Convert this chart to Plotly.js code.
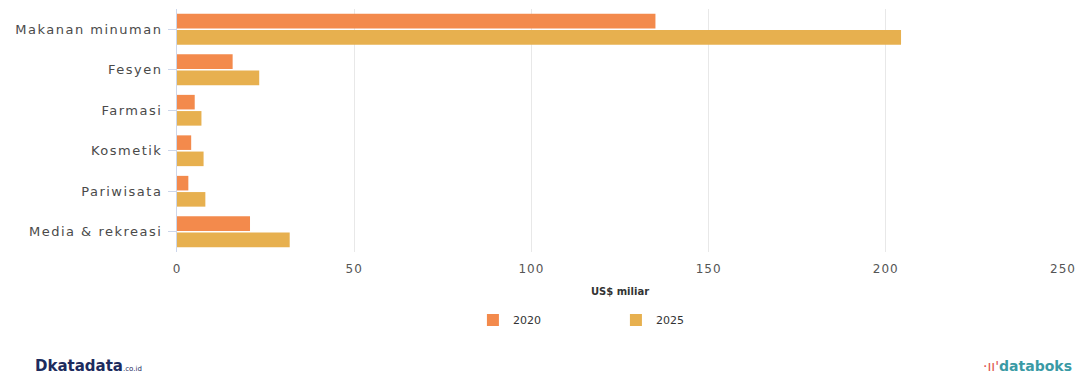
<!DOCTYPE html>
<html>
<head>
<meta charset="utf-8">
<script src="https://cdn.plot.ly/plotly-3.0.1.min.js"></script>
<style>
html,body{margin:0;padding:0;background:#fff;}
#chart{width:1084px;height:378px;}
#chart .ytick text{letter-spacing:1.5px;}
#chart .xtick text{letter-spacing:1px;}
</style>
</head>
<body>
<div id="chart"></div>
<script>
const categories = ["Makanan minuman", "Fesyen", "Farmasi", "Kosmetik", "Pariwisata", "Media & rekreasi"];
const values2020 = [135, 15.7, 5.0, 4.0, 3.2, 20.6];
const values2025 = [204.3, 23.2, 6.9, 7.5, 8.0, 31.8];
const seriesNames = ["2020", "2025"];
const xTicks = [0, 50, 100, 150, 200, 250];

const font = "DejaVu Sans, Verdana, sans-serif";
const traces = [
  {type: "bar", orientation: "h", name: seriesNames[0], y: categories, x: values2020,
   marker: {color: "#F38A4C"}, hoverinfo: "x"},
  {type: "bar", orientation: "h", name: seriesNames[1], y: categories, x: values2025,
   marker: {color: "#E7B04F"}, hoverinfo: "x"}
];
const layout = {
  width: 1084, height: 378,
  margin: {l: 177, r: 21, t: 9, b: 126},
  paper_bgcolor: "#fff", plot_bgcolor: "#fff",
  barmode: "group", bargap: 0.2, bargroupgap: 0.1,
  showlegend: true,
  legend: {orientation: "h", x: 0.334, xanchor: "left", y: -0.22, yanchor: "top",
    entrywidth: 98, entrywidthmode: "pixels", traceorder: "normal",
    font: {family: font, size: 11, color: "#333"}},
  xaxis: {range: [0, 250], tickvals: xTicks, ticktext: xTicks.map(String),
    showgrid: true, gridcolor: "#e8e8e8", zeroline: false, showline: false,
    ticks: "", ticklabelstandoff: 8, tickfont: {family: font, size: 12, color: "#555"},
    title: {text: "<b>US$ miliar</b>", font: {family: font, size: 10, color: "#333"}, standoff: 12}},
  yaxis: {categoryorder: "array", categoryarray: categories, autorange: "reversed",
    showline: true, linecolor: "#ccd6eb", linewidth: 1,
    ticks: "outside", ticklen: 8, tickcolor: "#ccd6eb", ticklabelstandoff: 3,
    tickfont: {family: font, size: 13, color: "#4a4a4a"}, showgrid: false, zeroline: false},
  annotations: [
    {xref: "paper", yref: "paper", x: -0.163, y: -0.47, xanchor: "left", yanchor: "middle", showarrow: false,
     text: "<b>D</b><b>katadata</b><span style='font-size:7px'>.co.id</span>",
     font: {family: font, size: 15, color: "#1d2b5e"}},
    {xref: "paper", yref: "paper", x: 1.012, y: -0.47, xanchor: "right", yanchor: "middle", showarrow: false,
     text: "<span style='color:#e0524a'>·ıı'</span><b>databoks</b>",
     font: {family: font, size: 14, color: "#3a9aa5"}}
  ]
};
Plotly.newPlot("chart", traces, layout, {displayModeBar: false, staticPlot: true});
</script>
</body>
</html>
